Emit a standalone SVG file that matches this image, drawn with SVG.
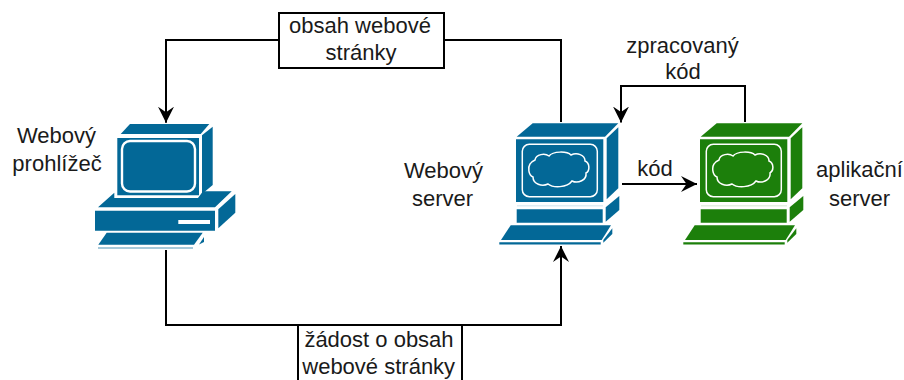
<svg xmlns="http://www.w3.org/2000/svg" xmlns:xlink="http://www.w3.org/1999/xlink" width="904" height="380" viewBox="0 0 904 380">
<style>
text{font-family:"Liberation Sans",Arial,sans-serif;font-size:22px;fill:#1a1a1a;text-anchor:middle}
.c{fill:none;stroke:#000;stroke-width:2}
.w{fill:none;stroke:#fff;stroke-width:1.5}
.box{fill:#fff;stroke:#000;stroke-width:2}
</style>
<defs>
<marker id="a" markerUnits="userSpaceOnUse" viewBox="0 0 17 16" markerWidth="17" markerHeight="16" refX="16" refY="8" orient="auto"><path d="M0 0L16 8L0 16L5.5 8Z" fill="#000"/></marker>
<g id="srv">
<path d="M532.7 123.3H618.3L605 136.7H516.7Z"/>
<path d="M516 139.3H603.3V202H516Z"/>
<path d="M606.7 138.3L618.3 127.3V188.3L606.7 199.3Z"/>
<path d="M516.7 209.3H602.7V222.7H516.7Z"/>
<path d="M605.7 207.3L619.3 196V210L605.7 221.7Z"/>
<path d="M510.7 225.3H611L601.7 240H501Z"/>
<path d="M499.3 242.3H600.7V244.6H499.3Z"/>
<path d="M612.3 228.3V234L603.3 242.7V240Z"/>
<path d="M517 205.5H603V206.3H517Z" opacity=".25"/>
<rect class="w" x="522.3" y="144.3" width="75" height="52.4" rx="7"/>
<path class="w" d="M535 160C536 154 545 153 549 156C553 151 567 151 571 155C577 152 585 155 585 161C590 163 590 171 586 173C587 180 578 184 572 181C567 188 553 188 548 184C542 187 533 184 533 177C528 175 528 167 530 164C531 162 533 161 535 160Z"/>
</g>
</defs>
<g id="connectors">
<path class="c" d="M279 40H166V122.7" marker-end="url(#a)"/>
<path class="c" d="M444 40H561V122"/>
<path class="c" d="M166 250V325H561V246" marker-end="url(#a)"/>
<path class="c" d="M622 184H697" marker-end="url(#a)"/>
<path class="c" d="M745 122V86H621V122.5" marker-end="url(#a)"/>
</g>
<g id="browser" fill="#036897">
<path d="M130 124H209.3L200.7 134H120.7Z"/>
<path d="M117.3 138H199V195.3H117.3Z"/>
<path d="M202 135.3L212.7 126.7V185L202 194Z"/>
<rect class="w" x="122" y="141" width="73" height="50.5" rx="8" style="stroke-width:2.4"/>
<path d="M114.3 192.7V198H198L203 191.3H231.7L215 207.3H98Z"/>
<path d="M95 210.7H215V230.7H95Z"/>
<rect x="178.3" y="220" width="31.7" height="4" fill="#fff"/>
<path d="M218.3 209.3L235.3 194V212.7L218.3 228.3Z"/>
<path d="M106.7 232.7H202.7L194 244.7H98.3Z"/>
<path d="M98 247.4H193V248.6H98Z" opacity=".7"/>
<path d="M204 237L199 244.5L204 242Z"/>
</g>
<g id="web-server" fill="#036897"><use href="#srv" xlink:href="#srv"/></g>
<g id="app-server" fill="#1c7f0b"><use href="#srv" xlink:href="#srv" x="184"/></g>
<g id="label-top"><rect class="box" x="279" y="13" width="165" height="55"/>
<text x="360" y="33">obsah webové</text><text x="361" y="60">stránky</text></g>
<g id="label-bottom"><path class="box" d="M298 381V325H462V381"/>
<text x="379" y="347">žádost o obsah</text><text x="378.7" y="374">webové stránky</text></g>
<g id="labels">
<text x="56.5" y="143">Webový</text><text x="57" y="171">prohlížeč</text>
<text x="443.5" y="178">Webový</text><text x="442.5" y="206">server</text>
<text x="655" y="176">kód</text>
<text x="682.5" y="52.5">zpracovaný</text><text x="683" y="79">kód</text>
<text x="859.5" y="177">aplikační</text><text x="859.5" y="206">server</text>
</g>
</svg>
